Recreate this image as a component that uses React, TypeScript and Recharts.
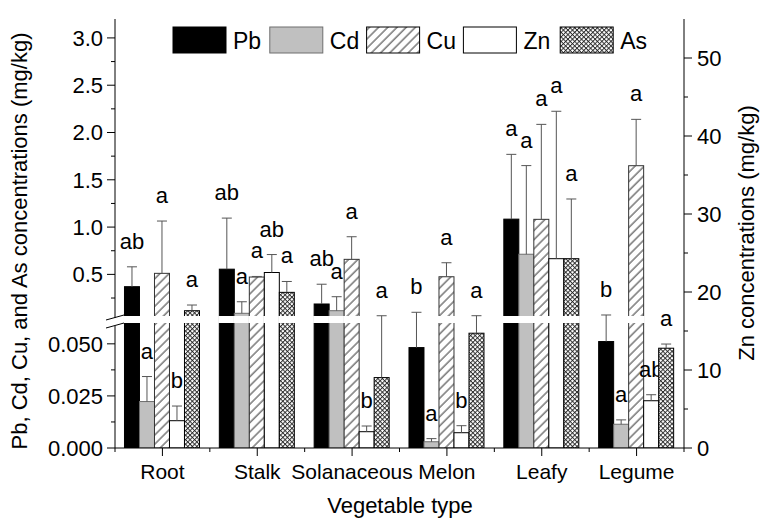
import React from "react";
import { ComposedChart, Bar, XAxis, YAxis } from "recharts";

const categories = ["Root", "Stalk", "Solanaceous", "Melon", "Leafy", "Legume"];

// mg/kg, means, upper error (SD) and significance letters
const pb = [0.37, 0.555, 0.187, 0.0482, 1.084, 0.0511];
const pbErr = [0.21, 0.54, 0.209, 0.051, 0.685, 0.0195];
const pbSig = ["ab", "ab", "ab", "b", "a", "b"];

const cd = [0.0223, 0.0885, 0.116, 0.003, 0.713, 0.0114];
const cdErr = [0.012, 0.122, 0.148, 0.0015, 0.937, 0.0021];
const cdSig = ["a", "a", "a", "a", "a", "a"];

const cu = [0.511, 0.472, 0.659, 0.475, 1.082, 1.649];
const cuErr = [0.553, 0.006, 0.239, 0.148, 1.004, 0.49];
const cuSig = ["a", "a", "a", "a", "a", "a"];

const zn = [3.5, 22.5, 2.09, 1.96, 24.27, 6.06];
const znErr = [1.88, 2.3, 0.73, 0.9, 18.9, 0.77];
const znSig = ["b", "ab", "b", "b", "a", "ab"];

const arsenic = [0.116, 0.31, 0.0338, 0.0551, 0.666, 0.0479];
const arsenicErr = [0.06, 0.115, 0.029, 0.008, 0.631, 0.002];
const arsenicSig = ["a", "a", "a", "a", "a", "a"];

const lowMajor = [0, 0.025, 0.05];
const lowMinor = [0.0125, 0.0375];
const upMajor = [0.5, 1.0, 1.5, 2.0, 2.5, 3.0];
const upMinor = [0.25, 0.75, 1.25, 1.75, 2.25, 2.75];
const znMajor = [0, 10, 20, 30, 40, 50];
const znMinor = [5, 15, 25, 35, 45];

// layout
const W = 761;
const H = 523;
const PLOT_L = 115;
const PLOT_R = 684;
const PLOT_T = 19;
const PLOT_B = 448;
const PLOT_H = PLOT_B - PLOT_T;
const LEFT_W = 60;
const RIGHT_W = 50;
const XH = 40;
const FONT = "'Liberation Sans', Arial, Helvetica, sans-serif";

// broken left axis: 0-0.06 below the break, 0.06-3.2 above it
const LOW_MAX = 0.06;
const UP_MAX = 3.2;
const LOW_SPAN = 125;
const GAP = 7;
const LEFT_MAX = PLOT_H;
const UP_SPAN = LEFT_MAX - LOW_SPAN - GAP;
const ZN_MAX = 55;

function disp(v: number) {
  if (v <= LOW_MAX) return (v / LOW_MAX) * LOW_SPAN;
  return LOW_SPAN + GAP + ((v - LOW_MAX) / (UP_MAX - LOW_MAX)) * UP_SPAN;
}

const BREAK_TICK = LOW_SPAN + GAP / 2;
const key = (d: number) => d.toFixed(3);
const leftLabels: Record<string, string> = {};
lowMajor.forEach((v) => (leftLabels[key(disp(v))] = v.toFixed(3)));
upMajor.forEach((v) => (leftLabels[key(disp(v))] = v.toFixed(1)));
const leftTicks = [...lowMajor, ...lowMinor, ...upMajor, ...upMinor]
  .map(disp)
  .concat([BREAK_TICK])
  .sort((a, b) => a - b);

type Series = {
  key: string;
  vals: number[];
  errs: number[];
  sig: string[];
  fill: string;
  stroke: string;
  right?: boolean;
};

const series: Series[] = [
  { key: "Pb", vals: pb, errs: pbErr, sig: pbSig, fill: "#000", stroke: "#000" },
  { key: "Cd", vals: cd, errs: cdErr, sig: cdSig, fill: "#c0c0c0", stroke: "#6e6e6e" },
  { key: "Cu", vals: cu, errs: cuErr, sig: cuSig, fill: "url(#cuHatch)", stroke: "#333" },
  { key: "Zn", vals: zn, errs: znErr, sig: znSig, fill: "#fff", stroke: "#000", right: true },
  { key: "As", vals: arsenic, errs: arsenicErr, sig: arsenicSig, fill: "url(#asCross)", stroke: "#000" },
];

const rows = categories.map((name, i) => ({
  name,
  Pb: disp(pb[i]),
  Cd: disp(cd[i]),
  Cu: disp(cu[i]),
  Zn: zn[i],
  As: disp(arsenic[i]),
}));

function makeShape(s: Series) {
  return (props: any) => {
    const { x, y, width, height, index } = props;
    const base = y + height;
    const leftPx = PLOT_H / LEFT_MAX;
    const v = s.vals[index];
    const e = s.errs[index];
    const errY = s.right
      ? base - (v + e) * (PLOT_H / ZN_MAX)
      : base - disp(v + e) * leftPx;
    const cx = x + width / 2;
    const bandTop = base - (LOW_SPAN + GAP) * leftPx;
    const bandBot = base - LOW_SPAN * leftPx;
    return (
      <g>
        <rect x={x} y={y} width={width} height={height} fill={s.fill} stroke={s.stroke} strokeWidth={1} />
        {y < bandBot && (
          <rect x={x - 1} y={bandTop} width={width + 2} height={bandBot - bandTop} fill="#fff" />
        )}
        <line x1={cx} x2={cx} y1={y} y2={errY} stroke="#555" strokeWidth={1} />
        <line x1={cx - 5} x2={cx + 5} y1={errY} y2={errY} stroke="#555" strokeWidth={1} />
        <text x={cx} y={errY - 18} textAnchor="middle" fontSize={22} fontFamily={FONT} fill="#000">
          {s.sig[index]}
        </text>
      </g>
    );
  };
}

const halfBand = (PLOT_R - PLOT_L) / categories.length / 2;

function BottomTick(p: any) {
  const { x, y, payload, index } = p;
  return (
    <g>
      <line x1={x} x2={x} y1={y} y2={y + 8} stroke="#000" />
      <line x1={x - halfBand} x2={x - halfBand} y1={y} y2={y + 4} stroke="#000" />
      {index === categories.length - 1 && (
        <line x1={x + halfBand} x2={x + halfBand} y1={y} y2={y + 4} stroke="#000" />
      )}
      <text x={x} y={y + 31} textAnchor="middle" fontSize={21} fontFamily={FONT} fill="#000">
        {payload.value}
      </text>
    </g>
  );
}

function TopTick(p: any) {
  const { x, y } = p;
  return (
    <g>
      <line x1={x} x2={x} y1={y} y2={y - 4} stroke="#000" />
      <line x1={x - halfBand} x2={x - halfBand} y1={y} y2={y - 4} stroke="#000" />
    </g>
  );
}

function LeftTick(p: any) {
  const { x, y, payload } = p;
  const d = payload.value;
  if (Math.abs(d - BREAK_TICK) < 0.01) {
    const t = y - GAP / 2;
    const b = y + GAP / 2;
    return (
      <g>
        <rect x={x - 2} y={t + 2} width={4} height={b - t + 1} fill="#fff" />
        <line x1={x - 9} y1={t + 4} x2={x + 9} y2={t - 1} stroke="#000" />
        <line x1={x - 9} y1={b + 5} x2={x + 9} y2={b} stroke="#000" />
      </g>
    );
  }
  const label = leftLabels[key(d)];
  return (
    <g>
      <line x1={x} x2={x - (label ? 8 : 4)} y1={y} y2={y} stroke="#000" />
      {label && (
        <text x={x - 12} y={y} dy="0.36em" textAnchor="end" fontSize={22} fontFamily={FONT} fill="#000">
          {label}
        </text>
      )}
    </g>
  );
}

function RightTick(p: any) {
  const { x, y, payload } = p;
  const major = znMajor.includes(payload.value);
  return (
    <g>
      <line x1={x} x2={x + (major ? 8 : 4)} y1={y} y2={y} stroke="#000" />
      {major && (
        <text x={x + 13} y={y} dy="0.36em" textAnchor="start" fontSize={22} fontFamily={FONT} fill="#000">
          {payload.value}
        </text>
      )}
    </g>
  );
}

function LegendSwatch({ s, x }: { s: Series; x: number }) {
  const fill = s.fill.replace("#cuHatch", "#cuHatchL").replace("#asCross", "#asCrossL");
  return (
    <g>
      <rect x={x} y={27} width={53} height={26} fill={fill} stroke={s.key === "Cd" ? "#6e6e6e" : "#000"} />
      <text x={x + 60} y={49} fontSize={23} fontFamily={FONT} fill="#000">
        {s.key}
      </text>
    </g>
  );
}

function Patterns({ suffix }: { suffix: string }) {
  return (
    <defs>
      <pattern id={"cuHatch" + suffix} width="6.5" height="6.5" patternUnits="userSpaceOnUse" patternTransform="rotate(45)">
        <rect width="6.5" height="6.5" fill="#fff" />
        <line x1="1" y1="0" x2="1" y2="6.5" stroke="#333" strokeWidth="1" />
      </pattern>
      <pattern id={"asCross" + suffix} width="3.2" height="3.2" patternUnits="userSpaceOnUse" patternTransform="rotate(45)">
        <rect width="3.2" height="3.2" fill="#fff" />
        <line x1="0.5" y1="0" x2="0.5" y2="3.2" stroke="#222" strokeWidth="0.9" />
        <line x1="0" y1="0.5" x2="3.2" y2="0.5" stroke="#222" strokeWidth="0.9" />
      </pattern>
    </defs>
  );
}

export default function App() {
  return (
    <div style={{ position: "absolute", left: 0, top: 0, width: W, height: H, background: "#fff" }}>
      <ComposedChart
        width={W}
        height={H}
        data={rows}
        margin={{ top: PLOT_T, left: PLOT_L - LEFT_W, right: W - PLOT_R - RIGHT_W, bottom: H - PLOT_B - XH }}
        barCategoryGap="10%"
        barGap={0}
      >
        <Patterns suffix="" />
        <XAxis
          dataKey="name"
          interval={0}
          height={XH}
          tickSize={0}
          tickMargin={0}
          tickLine={false}
          axisLine={{ stroke: "#000" }}
          tick={(p: any) => <BottomTick {...p} />}
        />
        <XAxis
          xAxisId="top"
          orientation="top"
          dataKey="name"
          interval={0}
          height={0}
          tickSize={0}
          tickMargin={0}
          tickLine={false}
          axisLine={{ stroke: "#000" }}
          tick={(p: any) => <TopTick {...p} />}
        />
        <YAxis
          yAxisId="left"
          type="number"
          domain={[0, LEFT_MAX]}
          ticks={leftTicks}
          interval={0}
          width={LEFT_W}
          tickSize={0}
          tickMargin={0}
          tickLine={false}
          allowDataOverflow
          axisLine={{ stroke: "#000" }}
          tick={(p: any) => <LeftTick {...p} />}
        />
        <YAxis
          yAxisId="right"
          orientation="right"
          type="number"
          domain={[0, ZN_MAX]}
          ticks={[...znMajor, ...znMinor].sort((a, b) => a - b)}
          interval={0}
          width={RIGHT_W}
          tickSize={0}
          tickMargin={0}
          tickLine={false}
          allowDataOverflow
          axisLine={{ stroke: "#000" }}
          tick={(p: any) => <RightTick {...p} />}
        />
        {series.map((s) => (
          <Bar
            key={s.key}
            dataKey={s.key}
            yAxisId={s.right ? "right" : "left"}
            shape={makeShape(s)}
            isAnimationActive={false}
          />
        ))}
      </ComposedChart>
      <svg
        width={W}
        height={H}
        style={{ position: "absolute", left: 0, top: 0, pointerEvents: "none" }}
      >
        <Patterns suffix="L" />
        {series.map((s, i) => (
          <LegendSwatch key={s.key} s={s} x={173 + i * 96.8} />
        ))}
        <text
          transform="translate(27, 241) rotate(-90)"
          textAnchor="middle"
          fontSize={22}
          fontFamily={FONT}
          fill="#000"
        >
          Pb, Cd, Cu, and As concentrations (mg/kg)
        </text>
        <text
          transform="translate(754, 233) rotate(-90)"
          textAnchor="middle"
          fontSize={22}
          fontFamily={FONT}
          fill="#000"
        >
          Zn concentrations (mg/kg)
        </text>
        <text x={400} y={513} textAnchor="middle" fontSize={22} fontFamily={FONT} fill="#000">
          Vegetable type
        </text>
      </svg>
    </div>
  );
}
